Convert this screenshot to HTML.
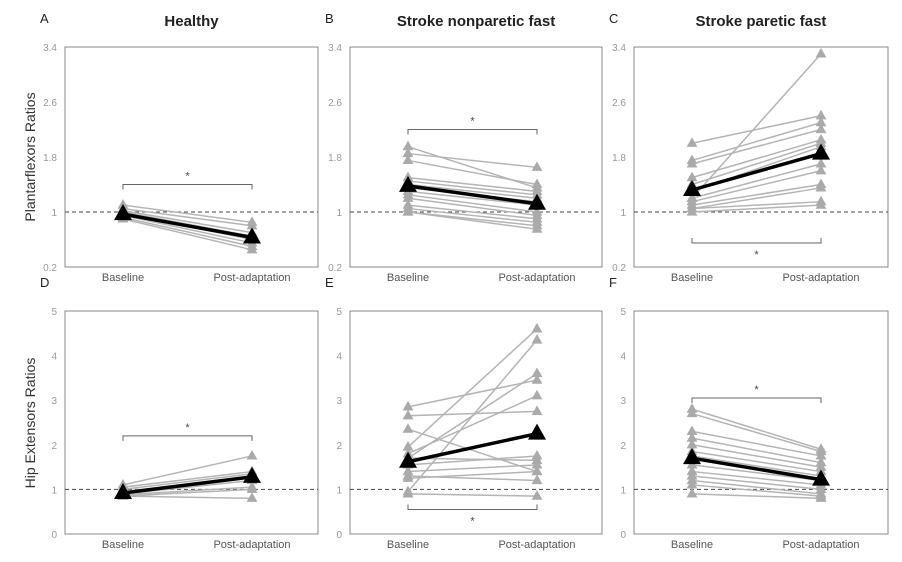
<!DOCTYPE html>
<html><head><meta charset="utf-8"><style>
body{margin:0;background:#fff;width:902px;height:557px;overflow:hidden}
svg{font-family:"Liberation Sans",sans-serif}
</style></head><body>
<svg id="chart" width="902" height="557" viewBox="0 0 902 557" xmlns="http://www.w3.org/2000/svg"></svg>
<script>
const categories = ["Baseline", "Post-adaptation"];
const titles = ["Healthy", "Stroke nonparetic fast", "Stroke paretic fast"];
const letters = ["A","B","C","D","E","F"];
const topTicks = ["0.2","1","1.8","2.6","3.4"];
const botTicks = ["0","1","2","3","4","5"];
const aBase = [1.1,1.05,1.02,1.0,0.98,0.95,0.92,0.9];
const aPost = [0.85,0.8,0.7,0.65,0.6,0.55,0.5,0.45];
const aMean = [0.97,0.63];
const bBase = [1.95,1.85,1.75,1.5,1.45,1.4,1.35,1.3,1.25,1.2,1.1,1.05,1.0,1.0];
const bPost = [1.35,1.65,1.4,1.3,1.25,1.2,1.15,1.1,1.0,0.95,0.9,0.85,0.8,0.75];
const bMean = [1.38,1.12];
const cBase = [2.0,1.75,1.7,1.5,1.4,1.3,1.2,1.15,1.1,1.05,1.05,1.0,1.2];
const cPost = [2.4,2.3,2.2,2.05,2.0,1.95,1.7,1.6,1.4,1.35,1.15,1.1,3.3];
const cMean = [1.32,1.85];
const dBase = [1.1,1.05,1.0,0.95,0.9,0.88,0.85,0.85];
const dPost = [1.75,1.4,1.35,1.3,1.2,1.05,1.0,0.8];
const dMean = [0.92,1.28];
const eBase = [2.85,2.65,2.35,1.95,1.8,1.7,1.55,1.4,1.3,1.25,0.95,0.9,1.7];
const ePost = [3.45,2.75,1.4,4.6,3.1,1.65,1.75,1.55,1.2,1.4,4.35,0.85,3.6];
const eMean = [1.62,2.25];
const fBase = [2.8,2.7,2.3,2.15,2.0,1.85,1.75,1.55,1.4,1.3,1.2,1.1,0.9];
const fPost = [1.9,1.85,1.75,1.6,1.5,1.4,1.3,1.2,1.1,1.0,0.9,0.85,0.8];
const fMean = [1.7,1.22];
const brackets = [1.4,2.2,0.55,2.2,0.55,3.05];

const svg=document.getElementById('chart');
const NS='http://www.w3.org/2000/svg';
function mk(tag,attrs,parent){const e=document.createElementNS(NS,tag);for(const k in attrs)e.setAttribute(k,attrs[k]);(parent||svg).appendChild(e);return e;}
const panels=[
 {x0:65,x1:318,y0:47,y1:267,min:0.2,max:3.4,ticks:topTicks,base:aBase,post:aPost,mean:aMean},
 {x0:350,x1:602,y0:47,y1:267,min:0.2,max:3.4,ticks:topTicks,base:bBase,post:bPost,mean:bMean},
 {x0:634,x1:888,y0:47,y1:267,min:0.2,max:3.4,ticks:topTicks,base:cBase,post:cPost,mean:cMean},
 {x0:65,x1:318,y0:311,y1:534,min:0,max:5,ticks:botTicks,base:dBase,post:dPost,mean:dMean},
 {x0:350,x1:602,y0:311,y1:534,min:0,max:5,ticks:botTicks,base:eBase,post:ePost,mean:eMean},
 {x0:634,x1:888,y0:311,y1:534,min:0,max:5,ticks:botTicks,base:fBase,post:fPost,mean:fMean}
];
function tri(g,cx,cy,s,fill){return mk('polygon',{points:`${cx},${cy-s} ${cx-s*0.9},${cy+s*0.6} ${cx+s*0.9},${cy+s*0.6}`,fill:fill},g);}
panels.forEach((p,i)=>{
 const g=mk('g',{});
 
 
 const ys=v=>p.y1-(v-p.min)/(p.max-p.min)*(p.y1-p.y0);
 const xs=k=>p.x0+58+k*129;
 const frame=mk('rect',{x:p.x0,y:p.y0,width:p.x1-p.x0,height:p.y1-p.y0,fill:'none',stroke:'#888','stroke-width':1},g);
 
 
 p.ticks.forEach(t=>{
  const tl=mk('text',{x:p.x0-8,y:ys(parseFloat(t))+4,'text-anchor':'end','font-size':10,fill:'#999'},g);
  tl.textContent=t;
  
  
 });
 const ref=mk('line',{x1:p.x0,x2:p.x1,y1:ys(1),y2:ys(1),stroke:'#444','stroke-dasharray':'4,3','stroke-width':1},g);
 
 
 categories.forEach((c,k)=>{
  const t=mk('text',{x:xs(k),y:p.y1+14,'text-anchor':'middle','font-size':11,fill:'#555'},g);
  t.textContent=c;
  
  
 });
 p.base.forEach((b,j)=>{
  const l=mk('line',{x1:xs(0),y1:ys(b),x2:xs(1),y2:ys(p.post[j]),stroke:'#b4b4b4','stroke-width':1.5},g);
  
  
  const m1=tri(g,xs(0),ys(b),6,'#aaa');
  
  
  const m2=tri(g,xs(1),ys(p.post[j]),6,'#aaa');
  
  
 });
 const ml=mk('line',{x1:xs(0),y1:ys(p.mean[0]),x2:xs(1),y2:ys(p.mean[1]),stroke:'#000','stroke-width':3.5},g);
 
 
 [0,1].forEach(k=>{
  const mm=tri(g,xs(k),ys(p.mean[k]),10,'#000');
  
  
 });
 const by=ys(brackets[i]);
 const up=brackets[i]>p.mean[0]&&brackets[i]>p.mean[1];
 const d=up?5:-5;
 const br=mk('path',{d:`M${xs(0)},${by+d} L${xs(0)},${by} L${xs(1)},${by} L${xs(1)},${by+d}`,fill:'none',stroke:'#666','stroke-width':1},g);
 
 
 const st=mk('text',{x:(xs(0)+xs(1))/2,y:up?by-5:by+15,'text-anchor':'middle','font-size':11,fill:'#444'},g);
 st.textContent='*';
 
 
 const lt=mk('text',{x:p.x0-25,y:p.y0-24,'font-size':13,fill:'#222'},g);
 lt.textContent=letters[i];
 
 
 if(i<3){
  const tt=mk('text',{x:(p.x0+p.x1)/2,y:26,'text-anchor':'middle','font-size':15,'font-weight':'bold',fill:'#222'},g);
  tt.textContent=titles[i];
  
  
 }
});
const y1=mk('text',{x:0,y:0,transform:'translate(35,157) rotate(-90)','text-anchor':'middle','font-size':14,fill:'#333'});
y1.textContent='Plantarflexors Ratios';


const y2=mk('text',{x:0,y:0,transform:'translate(35,423) rotate(-90)','text-anchor':'middle','font-size':14,fill:'#333'});
y2.textContent='Hip Extensors Ratios';


</script>
</body></html>
